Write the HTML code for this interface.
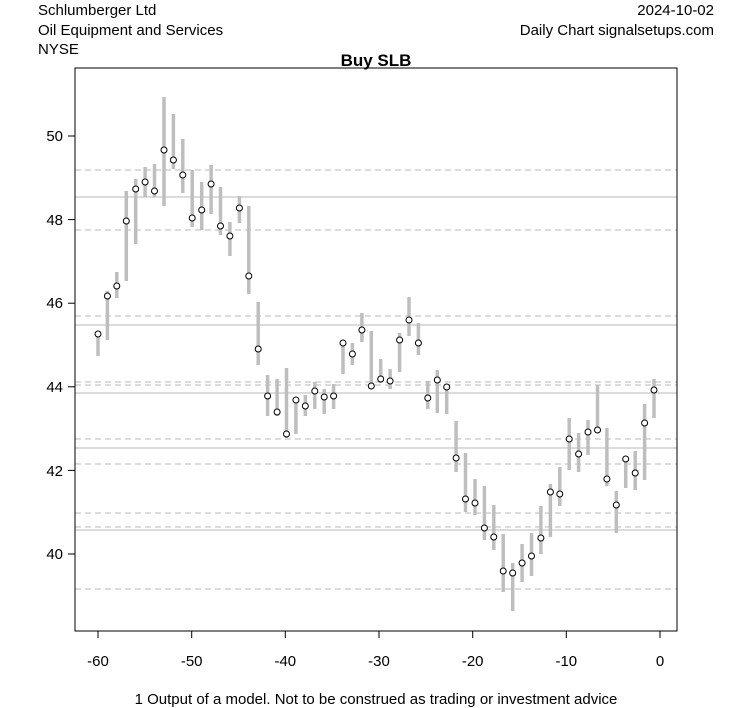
<!DOCTYPE html><html><head><meta charset="utf-8"><style>body{margin:0;background:#fff}svg{display:block}text{font-family:"Liberation Sans",sans-serif}</style></head><body>
<svg width="753" height="708" xmlns="http://www.w3.org/2000/svg">
<rect width="753" height="708" fill="#fff"/>
<text x="38" y="15" font-size="15">Schlumberger Ltd</text>
<text x="38" y="35" font-size="15">Oil Equipment and Services</text>
<text x="38" y="54" font-size="15">NYSE</text>
<text x="714" y="15" font-size="15" text-anchor="end">2024-10-02</text>
<text x="714" y="35" font-size="15" text-anchor="end">Daily Chart signalsetups.com</text>
<text x="376" y="66" font-size="17" font-weight="bold" text-anchor="middle">Buy SLB</text>
<g stroke="#c8c8c8" stroke-width="1.2">
<line x1="75" x2="677" y1="197" y2="197"/><line x1="75" x2="677" y1="325" y2="325"/><line x1="75" x2="677" y1="393" y2="393"/><line x1="75" x2="677" y1="448" y2="448"/><line x1="75" x2="677" y1="530" y2="530"/>
<g stroke-dasharray="6,4"><line x1="75" x2="677" y1="170" y2="170"/><line x1="75" x2="677" y1="230" y2="230"/><line x1="75" x2="677" y1="316" y2="316"/><line x1="75" x2="677" y1="382" y2="382"/><line x1="75" x2="677" y1="385" y2="385"/><line x1="75" x2="677" y1="439" y2="439"/><line x1="75" x2="677" y1="464" y2="464"/><line x1="75" x2="677" y1="513" y2="513"/><line x1="75" x2="677" y1="527" y2="527"/><line x1="75" x2="677" y1="589" y2="589"/></g>
</g>
<g stroke="#bebebe" stroke-width="3.5">
<line x1="98" x2="98" y1="331" y2="356"/>
<line x1="107.4" x2="107.4" y1="291" y2="340"/>
<line x1="116.8" x2="116.8" y1="272" y2="298"/>
<line x1="126.3" x2="126.3" y1="191" y2="281"/>
<line x1="135.7" x2="135.7" y1="179" y2="244"/>
<line x1="145.1" x2="145.1" y1="167" y2="197"/>
<line x1="154.5" x2="154.5" y1="164" y2="197"/>
<line x1="164" x2="164" y1="97" y2="206"/>
<line x1="173.4" x2="173.4" y1="114" y2="169"/>
<line x1="182.8" x2="182.8" y1="139" y2="193"/>
<line x1="192.2" x2="192.2" y1="170" y2="227"/>
<line x1="201.7" x2="201.7" y1="182" y2="230"/>
<line x1="211.1" x2="211.1" y1="165" y2="214"/>
<line x1="220.5" x2="220.5" y1="187" y2="235"/>
<line x1="229.9" x2="229.9" y1="222" y2="256"/>
<line x1="239.4" x2="239.4" y1="196" y2="223"/>
<line x1="248.8" x2="248.8" y1="206" y2="294"/>
<line x1="258.2" x2="258.2" y1="302" y2="365"/>
<line x1="267.6" x2="267.6" y1="375" y2="416"/>
<line x1="277.1" x2="277.1" y1="379" y2="416"/>
<line x1="286.5" x2="286.5" y1="368" y2="438"/>
<line x1="295.9" x2="295.9" y1="397" y2="434"/>
<line x1="305.3" x2="305.3" y1="395" y2="416"/>
<line x1="314.8" x2="314.8" y1="382" y2="409"/>
<line x1="324.2" x2="324.2" y1="389" y2="414"/>
<line x1="333.6" x2="333.6" y1="384" y2="409"/>
<line x1="343" x2="343" y1="340" y2="374"/>
<line x1="352.4" x2="352.4" y1="343" y2="365"/>
<line x1="361.9" x2="361.9" y1="313" y2="342"/>
<line x1="371.3" x2="371.3" y1="331" y2="386"/>
<line x1="380.7" x2="380.7" y1="359" y2="383"/>
<line x1="390.1" x2="390.1" y1="369" y2="389"/>
<line x1="399.6" x2="399.6" y1="333" y2="372"/>
<line x1="409" x2="409" y1="297" y2="336"/>
<line x1="418.4" x2="418.4" y1="323" y2="355"/>
<line x1="427.8" x2="427.8" y1="381" y2="409"/>
<line x1="437.3" x2="437.3" y1="370" y2="413"/>
<line x1="446.7" x2="446.7" y1="385" y2="414"/>
<line x1="456.1" x2="456.1" y1="421" y2="472"/>
<line x1="465.5" x2="465.5" y1="453" y2="512"/>
<line x1="475" x2="475" y1="479" y2="515"/>
<line x1="484.4" x2="484.4" y1="486" y2="540"/>
<line x1="493.8" x2="493.8" y1="505" y2="550"/>
<line x1="503.2" x2="503.2" y1="534" y2="592"/>
<line x1="512.7" x2="512.7" y1="563" y2="611"/>
<line x1="522.1" x2="522.1" y1="544" y2="582"/>
<line x1="531.5" x2="531.5" y1="533" y2="576"/>
<line x1="540.9" x2="540.9" y1="506" y2="554"/>
<line x1="550.4" x2="550.4" y1="484" y2="537"/>
<line x1="559.8" x2="559.8" y1="467" y2="506"/>
<line x1="569.2" x2="569.2" y1="418" y2="470"/>
<line x1="578.6" x2="578.6" y1="433" y2="472"/>
<line x1="588" x2="588" y1="420" y2="455"/>
<line x1="597.5" x2="597.5" y1="385" y2="430"/>
<line x1="606.9" x2="606.9" y1="428" y2="486"/>
<line x1="616.3" x2="616.3" y1="491" y2="533"/>
<line x1="625.7" x2="625.7" y1="457" y2="488"/>
<line x1="635.2" x2="635.2" y1="451" y2="490"/>
<line x1="644.6" x2="644.6" y1="404" y2="480"/>
<line x1="654" x2="654" y1="379" y2="418"/>
</g>
<g fill="#fff" stroke="#000" stroke-width="1">
<circle cx="98" cy="334" r="3"/><circle cx="107.4" cy="296" r="3"/><circle cx="116.8" cy="286" r="3"/><circle cx="126.3" cy="221" r="3"/><circle cx="135.7" cy="189" r="3"/><circle cx="145.1" cy="182" r="3"/><circle cx="154.5" cy="191" r="3"/><circle cx="164" cy="150" r="3"/><circle cx="173.4" cy="160" r="3"/><circle cx="182.8" cy="175" r="3"/>
<circle cx="192.2" cy="218" r="3"/><circle cx="201.7" cy="210" r="3"/><circle cx="211.1" cy="184" r="3"/><circle cx="220.5" cy="226" r="3"/><circle cx="229.9" cy="236" r="3"/><circle cx="239.4" cy="208" r="3"/><circle cx="248.8" cy="276" r="3"/><circle cx="258.2" cy="349" r="3"/><circle cx="267.6" cy="396" r="3"/><circle cx="277.1" cy="412" r="3"/>
<circle cx="286.5" cy="434" r="3"/><circle cx="295.9" cy="400" r="3"/><circle cx="305.3" cy="406" r="3"/><circle cx="314.8" cy="391" r="3"/><circle cx="324.2" cy="397" r="3"/><circle cx="333.6" cy="396" r="3"/><circle cx="343" cy="343" r="3"/><circle cx="352.4" cy="354" r="3"/><circle cx="361.9" cy="330" r="3"/><circle cx="371.3" cy="386" r="3"/>
<circle cx="380.7" cy="379" r="3"/><circle cx="390.1" cy="381" r="3"/><circle cx="399.6" cy="340" r="3"/><circle cx="409" cy="320" r="3"/><circle cx="418.4" cy="343" r="3"/><circle cx="427.8" cy="398" r="3"/><circle cx="437.3" cy="380" r="3"/><circle cx="446.7" cy="387" r="3"/><circle cx="456.1" cy="458" r="3"/><circle cx="465.5" cy="499" r="3"/>
<circle cx="475" cy="503" r="3"/><circle cx="484.4" cy="528" r="3"/><circle cx="493.8" cy="537" r="3"/><circle cx="503.2" cy="571" r="3"/><circle cx="512.7" cy="573" r="3"/><circle cx="522.1" cy="563" r="3"/><circle cx="531.5" cy="556" r="3"/><circle cx="540.9" cy="538" r="3"/><circle cx="550.4" cy="492" r="3"/><circle cx="559.8" cy="494" r="3"/>
<circle cx="569.2" cy="439" r="3"/><circle cx="578.6" cy="454" r="3"/><circle cx="588" cy="432" r="3"/><circle cx="597.5" cy="430" r="3"/><circle cx="606.9" cy="479" r="3"/><circle cx="616.3" cy="505" r="3"/><circle cx="625.7" cy="459" r="3"/><circle cx="635.2" cy="473" r="3"/><circle cx="644.6" cy="423" r="3"/><circle cx="654" cy="390" r="3"/>
</g>
<rect x="75" y="68" width="602" height="563" fill="none" stroke="#000"/>
<g stroke="#000">
<line x1="98" x2="660" y1="631" y2="631"/>
<line x1="98" x2="98" y1="631" y2="638"/><line x1="191.7" x2="191.7" y1="631" y2="638"/><line x1="285.3" x2="285.3" y1="631" y2="638"/><line x1="379" x2="379" y1="631" y2="638"/><line x1="472.7" x2="472.7" y1="631" y2="638"/><line x1="566.3" x2="566.3" y1="631" y2="638"/><line x1="660" x2="660" y1="631" y2="638"/>
<line x1="75" x2="75" y1="136" y2="554"/>
<line x1="68" x2="75" y1="136" y2="136"/><line x1="68" x2="75" y1="219.6" y2="219.6"/><line x1="68" x2="75" y1="303.2" y2="303.2"/><line x1="68" x2="75" y1="386.8" y2="386.8"/><line x1="68" x2="75" y1="470.4" y2="470.4"/><line x1="68" x2="75" y1="554" y2="554"/>
</g>
<g font-size="15" text-anchor="middle">
<text x="98" y="666">-60</text><text x="191.7" y="666">-50</text><text x="285.3" y="666">-40</text><text x="379" y="666">-30</text><text x="472.7" y="666">-20</text><text x="566.3" y="666">-10</text><text x="660" y="666">0</text>
</g>
<g font-size="15" text-anchor="end">
<text x="63" y="141">50</text><text x="63" y="225">48</text><text x="63" y="308">46</text><text x="63" y="392">44</text><text x="63" y="476">42</text><text x="63" y="559">40</text>
</g>
<text x="376" y="704" font-size="15" text-anchor="middle">1 Output of a model. Not to be construed as trading or investment advice</text>
</svg></body></html>
